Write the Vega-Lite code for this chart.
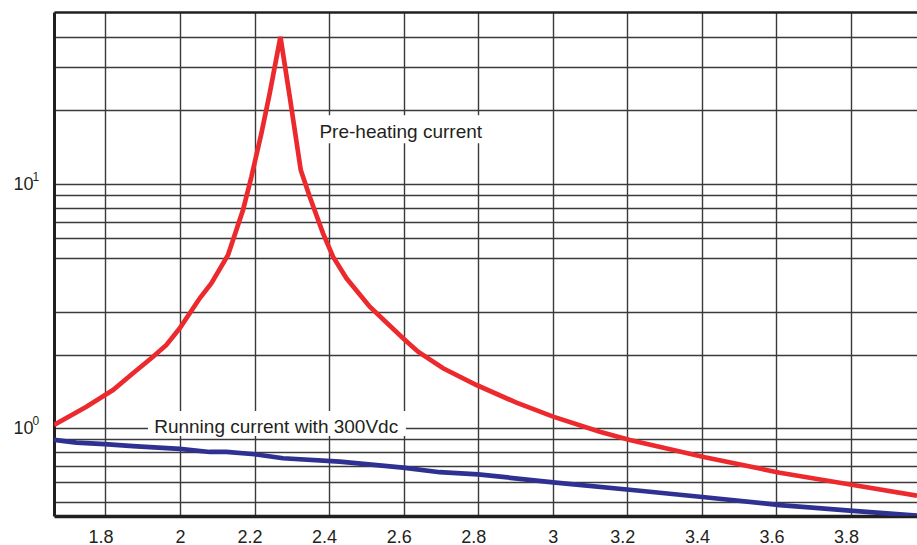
{
  "$schema": "https://vega.github.io/schema/vega-lite/v6.json",
  "width": 863,
  "height": 504,
  "autosize": {"type": "none"},
  "padding": {"left": 54, "top": 12, "right": 0, "bottom": 29},
  "background": "white",
  "config": {
    "view": {"stroke": null},
    "font": "Liberation Sans",
    "axis": {"labelFont": "Liberation Sans", "labelColor": "#231f20", "title": null}
  },
  "datasets": {
    "curves": [
      {"x": 1.662, "y": 1.031, "s": "Pre-heating current"},
      {"x": 1.7489, "y": 1.226, "s": "Pre-heating current"},
      {"x": 1.8202, "y": 1.435, "s": "Pre-heating current"},
      {"x": 1.8739, "y": 1.68, "s": "Pre-heating current"},
      {"x": 1.9276, "y": 1.964, "s": "Pre-heating current"},
      {"x": 1.9635, "y": 2.193, "s": "Pre-heating current"},
      {"x": 1.9992, "y": 2.567, "s": "Pre-heating current"},
      {"x": 2.0529, "y": 3.405, "s": "Pre-heating current"},
      {"x": 2.0843, "y": 3.923, "s": "Pre-heating current"},
      {"x": 2.1288, "y": 5.121, "s": "Pre-heating current"},
      {"x": 2.169, "y": 7.828, "s": "Pre-heating current"},
      {"x": 2.1916, "y": 10.71, "s": "Pre-heating current"},
      {"x": 2.2184, "y": 16.13, "s": "Pre-heating current"},
      {"x": 2.2407, "y": 23.51, "s": "Pre-heating current"},
      {"x": 2.2694, "y": 40.0, "s": "Pre-heating current"},
      {"x": 2.2943, "y": 22.77, "s": "Pre-heating current"},
      {"x": 2.3239, "y": 11.41, "s": "Pre-heating current"},
      {"x": 2.348, "y": 8.87, "s": "Pre-heating current"},
      {"x": 2.3837, "y": 6.284, "s": "Pre-heating current"},
      {"x": 2.4105, "y": 5.04, "s": "Pre-heating current"},
      {"x": 2.4465, "y": 4.11, "s": "Pre-heating current"},
      {"x": 2.509, "y": 3.146, "s": "Pre-heating current"},
      {"x": 2.5983, "y": 2.336, "s": "Pre-heating current"},
      {"x": 2.6386, "y": 2.058, "s": "Pre-heating current"},
      {"x": 2.7057, "y": 1.76, "s": "Pre-heating current"},
      {"x": 2.7953, "y": 1.504, "s": "Pre-heating current"},
      {"x": 2.9026, "y": 1.273, "s": "Pre-heating current"},
      {"x": 3.0008, "y": 1.116, "s": "Pre-heating current"},
      {"x": 3.1261, "y": 0.968, "s": "Pre-heating current"},
      {"x": 3.2066, "y": 0.896, "s": "Pre-heating current"},
      {"x": 3.4078, "y": 0.761, "s": "Pre-heating current"},
      {"x": 3.609, "y": 0.658, "s": "Pre-heating current"},
      {"x": 3.8058, "y": 0.586, "s": "Pre-heating current"},
      {"x": 3.977, "y": 0.53, "s": "Pre-heating current"},
      {"x": 1.662, "y": 0.896, "s": "Running current"},
      {"x": 1.722, "y": 0.873, "s": "Running current"},
      {"x": 1.798, "y": 0.862, "s": "Running current"},
      {"x": 1.874, "y": 0.846, "s": "Running current"},
      {"x": 1.999, "y": 0.823, "s": "Running current"},
      {"x": 2.08, "y": 0.8, "s": "Running current"},
      {"x": 2.1245, "y": 0.8, "s": "Running current"},
      {"x": 2.2004, "y": 0.783, "s": "Running current"},
      {"x": 2.2764, "y": 0.754, "s": "Running current"},
      {"x": 2.4285, "y": 0.73, "s": "Running current"},
      {"x": 2.5983, "y": 0.69, "s": "Running current"},
      {"x": 2.6968, "y": 0.661, "s": "Running current"},
      {"x": 2.7996, "y": 0.648, "s": "Running current"},
      {"x": 3.0008, "y": 0.601, "s": "Running current"},
      {"x": 3.2334, "y": 0.555, "s": "Running current"},
      {"x": 3.4078, "y": 0.522, "s": "Running current"},
      {"x": 3.609, "y": 0.485, "s": "Running current"},
      {"x": 3.8058, "y": 0.459, "s": "Running current"},
      {"x": 3.977, "y": 0.439, "s": "Running current"}
    ],
    "boxes": [
      {"x1": 2.364, "x2": 2.821, "y1": 14.7, "y2": 19.1},
      {"x1": 1.914, "x2": 2.606, "y1": 0.93, "y2": 1.177}
    ],
    "notes": [
      {"x": 2.5922, "y": 15.43, "label": "Pre-heating current"},
      {"x": 2.258, "y": 0.957, "label": "Running current with 300Vdc"}
    ],
    "sups": [
      {"x": 1.662, "y": 10, "label": "1"},
      {"x": 1.662, "y": 1, "label": "0"}
    ]
  },
  "layer": [
    {
      "data": {"name": "curves"},
      "mark": {"type": "line", "strokeWidth": 4.7, "clip": true},
      "encoding": {
        "x": {
          "field": "x", "type": "quantitative",
          "scale": {"domain": [1.662, 3.977], "nice": false, "zero": false},
          "axis": {
            "orient": "bottom",
            "values": [1.8, 2, 2.2, 2.4, 2.6, 2.8, 3, 3.2, 3.4, 3.6, 3.8],
            "labelExpr": "format(datum.value, '~g')",
            "labelFontSize": 18,
            "labelPadding": 12,
            "labelFlush": false,
            "labelOverlap": false,
            "labelOffset": {"condition": {"test": "datum.value % 1 !== 0", "value": -5}, "value": 0},
            "ticks": false,
            "tickSize": 0,
            "grid": true,
            "gridColor": "#3a3a3a",
            "gridWidth": 1.4,
            "domainColor": "#231f20",
            "domainWidth": 3.5
          }
        },
        "y": {
          "field": "y", "type": "quantitative",
          "scale": {"type": "log", "domain": [0.4375, 50.6], "nice": false},
          "axis": {
            "values": [0.5, 0.6, 0.7, 0.8, 0.9, 1, 2, 3, 5, 6, 7, 8, 9, 10, 20, 30, 40],
            "labelExpr": "(datum.value == 1 || datum.value == 10) ? '10' : ''",
            "labelFontSize": 18,
            "labelPadding": 21,
            "labelOverlap": false,
            "labelBound": false,
            "ticks": false,
            "tickSize": 0,
            "grid": true,
            "gridColor": "#3a3a3a",
            "gridWidth": 1.4,
            "domainColor": "#231f20",
            "domainWidth": 3
          }
        },
        "color": {
          "field": "s", "type": "nominal",
          "scale": {"domain": ["Pre-heating current", "Running current"], "range": ["#ec2a2e", "#2e3192"]},
          "legend": null
        }
      }
    },
    {
      "data": {"name": "boxes"},
      "mark": {"type": "rect", "fill": "white"},
      "encoding": {
        "x": {"field": "x1", "type": "quantitative",
          "axis": {"orient": "top", "labels": false, "ticks": false, "tickSize": 0, "grid": false, "domainColor": "#231f20", "domainWidth": 2.5, "title": null}},
        "x2": {"field": "x2"},
        "y": {"field": "y1", "type": "quantitative"},
        "y2": {"field": "y2"}
      }
    },
    {
      "data": {"name": "notes"},
      "mark": {"type": "text", "fontSize": 19, "font": "Liberation Sans", "color": "#231f20", "align": "center", "baseline": "alphabetic"},
      "encoding": {
        "x": {"field": "x", "type": "quantitative", "axis": null},
        "y": {"field": "y", "type": "quantitative"},
        "text": {"field": "label"}
      }
    },
    {
      "data": {"name": "sups"},
      "mark": {"type": "text", "fontSize": 12, "font": "Liberation Sans", "color": "#231f20", "align": "left", "baseline": "alphabetic", "dx": -21.5, "dy": -3.5, "clip": false},
      "encoding": {
        "x": {"field": "x", "type": "quantitative", "axis": null},
        "y": {"field": "y", "type": "quantitative"},
        "text": {"field": "label"}
      }
    }
  ],
  "resolve": {"axis": {"x": "independent"}}
}
